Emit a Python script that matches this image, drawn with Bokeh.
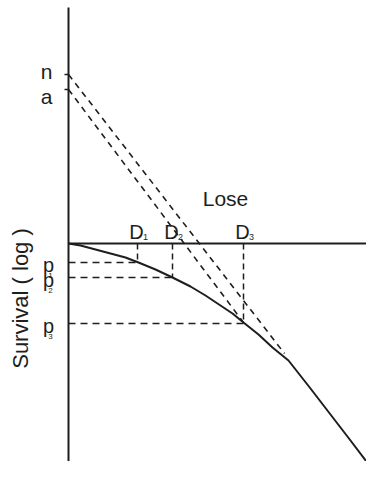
from bokeh.plotting import figure
from bokeh.models import Range1d
from bokeh.core.properties import value
from bokeh.embed import file_html
from bokeh.resources import INLINE

# ---- data (schematic units: dose on x, -log survival on y) ----
axis_x = 68
axis_top, axis_bottom = 7, 480
baseline_y = 243          # survival = 1 (log 0)
baseline_end = 385
n_val = 74                # extrapolation number n
a_val = 89                # extrapolation number a
curve_x = [68, 80, 95, 110, 125, 138, 155, 172, 190, 205, 220, 232, 243,
           258, 272, 288, 310, 330, 350, 372]
curve_y = [243, 245, 249, 253, 257, 262, 269, 277, 286, 295, 305, 313, 322,
           334, 347, 360, 388, 414, 440, 469]
dose_x = [137, 172, 243]          # D1, D2, D3
surv_p = [262, 277, 323]          # p1, p2, p3
dose_labels = ["D", "D", "D"]
dose_subs = ["1", "2", "3"]
p_labels = ["p", "p", "p"]
p_subs = ["1", "2", "3"]
n_line_end = (284, 353)
a_line_end = (243, 322)

ink = "#1e1e1e"
font = value("Liberation Sans")

W, H = 366, 461
p = figure(width=W, height=H, output_backend="svg", toolbar_location=None,
           x_range=Range1d(0, W), y_range=Range1d(H, 0),
           min_border=0)
p.axis.visible = False
p.grid.visible = False
p.outline_line_color = None
p.background_fill_color = "white"

# axes
p.line([axis_x, axis_x], [axis_top, axis_bottom], line_color=ink, line_width=2)
p.line([axis_x, baseline_end], [baseline_y, baseline_y], line_color=ink, line_width=2)
# tick marks for n and a
p.segment(x0=[axis_x - 4, axis_x - 4], y0=[n_val, a_val], x1=[axis_x, axis_x],
          y1=[n_val, a_val], line_color=ink, line_width=1.5)

# survival curve
p.line(curve_x, curve_y, line_color=ink, line_width=2, line_join="round")

# extrapolation dashed lines
p.line([axis_x, n_line_end[0]], [n_val, n_line_end[1]], line_color=ink,
       line_width=1.6, line_dash="6 5")
p.line([axis_x, a_line_end[0]], [a_val, a_line_end[1]], line_color=ink,
       line_width=1.6, line_dash="6 5")

# dose / survival guides
p.segment(x0=dose_x, y0=[baseline_y] * 3, x1=dose_x, y1=surv_p,
          line_color=ink, line_width=1.5, line_dash="6 4")
p.segment(x0=[axis_x] * 3, y0=surv_p, x1=dose_x, y1=surv_p,
          line_color=ink, line_width=1.5, line_dash="7 5")

# labels
p.text(x=[46, 46], y=[n_val - 3, a_val + 7], text=["n", "a"], text_font=font,
       text_font_size="21px", text_color=ink, text_align="center",
       text_baseline="middle")
p.text(x=[x - 1 for x in dose_x], y=[231] * 3, text=dose_labels, text_font=font,
       text_font_size="20px", text_color=ink, text_align="center",
       text_baseline="middle")
p.text(x=[x + 8 for x in dose_x], y=[236] * 3, text=dose_subs, text_font=font,
       text_font_size="9px", text_color=ink, text_align="center",
       text_baseline="middle")
p.text(x=[48] * 3, y=[s + 2 for s in surv_p], text=p_labels, text_font=font,
       text_font_size="20px", text_color=ink, text_align="center",
       text_baseline="middle")
p.text(x=[50] * 3, y=[s + 13 for s in surv_p], text=p_subs, text_font=font,
       text_font_size="8px", text_color=ink, text_align="center",
       text_baseline="middle")
p.text(x=[225], y=[198], text=["Lose"], text_font=font, text_font_size="21px",
       text_color=ink, text_align="center", text_baseline="middle")
p.text(x=[20], y=[298], text=["Survival ( log )"], text_font=font,
       text_font_size="22px", text_color=ink, text_align="center",
       text_baseline="middle", angle=1.5708)

open("out.html", "w").write(file_html(p, INLINE))
